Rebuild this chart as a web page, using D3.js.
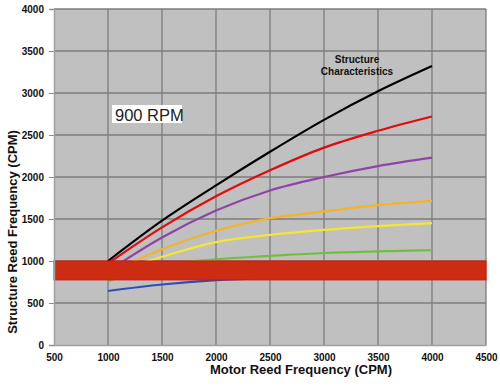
<html>
<head>
<script src="https://cdnjs.cloudflare.com/ajax/libs/d3/7.8.5/d3.min.js"></script>
<style>
  body { margin: 0; background: #fff; }
  text { font-family: "Liberation Sans", Arial, sans-serif; }
</style>
</head>
<body>
<script>
  // motor reed frequency (CPM) sampled along each curve
  var motorFreq = [1000, 1500, 2000, 2500, 3000, 3500, 4000];

  var seriesNames = ["black", "red", "purple", "orange", "yellow", "green", "blue"];
  var blackVals  = [1000, 1480, 1900, 2300, 2680, 3020, 3320];
  var redVals    = [970, 1400, 1770, 2080, 2350, 2550, 2720];
  var purpleVals = [880, 1280, 1600, 1840, 2000, 2130, 2230];
  var orangeVals = [860, 1140, 1360, 1510, 1590, 1665, 1715];
  var yellowVals = [850, 1050, 1225, 1310, 1370, 1415, 1450];
  var greenVals  = [760, 950, 1020, 1060, 1095, 1115, 1130];
  var blueVals   = [643, 720, 772, 800, 815, 825, 830];

  // forbidden band (structure resonance range)
  var bandLow = 775, bandHigh = 1000;

  var xTicks = [500, 1000, 1500, 2000, 2500, 3000, 3500, 4000, 4500];
  var yTicks = [0, 500, 1000, 1500, 2000, 2500, 3000, 3500, 4000];

  var colors = {
    black: "#000000", red: "#e00b0b", purple: "#8f44a6", orange: "#f2b52a",
    yellow: "#f4e631", green: "#6fbf3c", blue: "#2b4fb3"
  };
  var values = {
    black: blackVals, red: redVals, purple: purpleVals, orange: orangeVals,
    yellow: yellowVals, green: greenVals, blue: blueVals
  };

  var width = 500, height = 387;
  var margin = { top: 9, right: 14, bottom: 42, left: 54 };

  var svg = d3.select("body").append("svg")
      .attr("width", width)
      .attr("height", height);

  var x = d3.scaleLinear().domain([500, 4500]).range([margin.left, width - margin.right]);
  var y = d3.scaleLinear().domain([0, 4000]).range([height - margin.bottom, margin.top]);

  // plot background
  svg.append("rect")
      .attr("x", x(500)).attr("y", y(4000))
      .attr("width", x(4500) - x(500)).attr("height", y(0) - y(4000))
      .attr("fill", "#c0c0c0");

  // grid
  svg.append("g").selectAll("line")
      .data(xTicks.slice(1))
      .enter().append("line")
      .attr("x1", function(d) { return x(d); }).attr("x2", function(d) { return x(d); })
      .attr("y1", y(0)).attr("y2", y(4000))
      .attr("stroke", "#7c7c7c").attr("stroke-width", 1.3);

  svg.append("g").selectAll("line")
      .data(yTicks.slice(1))
      .enter().append("line")
      .attr("y1", function(d) { return y(d); }).attr("y2", function(d) { return y(d); })
      .attr("x1", x(500)).attr("x2", x(4500))
      .attr("stroke", "#7c7c7c").attr("stroke-width", 1.3);

  // curves
  var line = d3.line()
      .x(function(d) { return x(d[0]); })
      .y(function(d) { return y(d[1]); })
      .curve(d3.curveMonotoneX);

  seriesNames.forEach(function(name) {
    var pts = motorFreq.map(function(f, i) { return [f, values[name][i]]; });
    svg.append("path")
        .attr("d", line(pts))
        .attr("fill", "none")
        .attr("stroke", colors[name])
        .attr("stroke-width", 2.2);
  });

  // resonance band drawn over the curves
  svg.append("rect")
      .attr("x", x(500)).attr("y", y(bandHigh))
      .attr("width", x(4500) - x(500)).attr("height", y(bandLow) - y(bandHigh))
      .attr("fill", "#cc2c12")
      .attr("stroke", "#e01010").attr("stroke-width", 1);

  // axes
  var xAxis = svg.append("g")
      .attr("transform", "translate(0," + y(0) + ")")
      .call(d3.axisBottom(x).tickValues(xTicks).tickFormat(d3.format("d")).tickSize(0).tickPadding(9));
  var yAxis = svg.append("g")
      .attr("transform", "translate(" + x(500) + ",0)")
      .call(d3.axisLeft(y).tickValues(yTicks).tickFormat(d3.format("d")).tickSize(5).tickPadding(5));

  [xAxis, yAxis].forEach(function(g) {
    g.select(".domain").attr("stroke", "#a0a0a0").attr("stroke-width", 1.5);
    g.selectAll(".tick line").attr("stroke", "#8a8a8a");
    g.selectAll("text")
        .attr("font-family", "'Liberation Sans', Arial, sans-serif")
        .attr("font-size", 10)
        .attr("font-weight", "bold")
        .attr("fill", "#111");
  });

  // axis titles
  svg.append("text")
      .attr("x", 301).attr("y", 374)
      .attr("text-anchor", "middle")
      .attr("font-size", 13).attr("font-weight", "bold")
      .attr("fill", "#111")
      .text("Motor Reed Frequency (CPM)");

  svg.append("text")
      .attr("transform", "translate(17,232) rotate(-90)")
      .attr("text-anchor", "middle")
      .attr("font-size", 13).attr("font-weight", "bold")
      .attr("fill", "#111")
      .text("Structure Reed Frequency (CPM)");

  // annotations
  svg.append("rect")
      .attr("x", 112).attr("y", 105).attr("width", 70).attr("height", 18)
      .attr("fill", "#fff");
  svg.append("text")
      .attr("x", 115).attr("y", 120.5)
      .attr("font-size", 16.5)
      .attr("fill", "#222")
      .text("900 RPM");

  var note = svg.append("text")
      .attr("text-anchor", "middle")
      .attr("font-size", 10).attr("font-weight", "bold")
      .attr("fill", "#111");
  note.append("tspan").attr("x", 357).attr("y", 63).text("Structure");
  note.append("tspan").attr("x", 357).attr("y", 74.5).text("Characteristics");
</script>
</body>
</html>
